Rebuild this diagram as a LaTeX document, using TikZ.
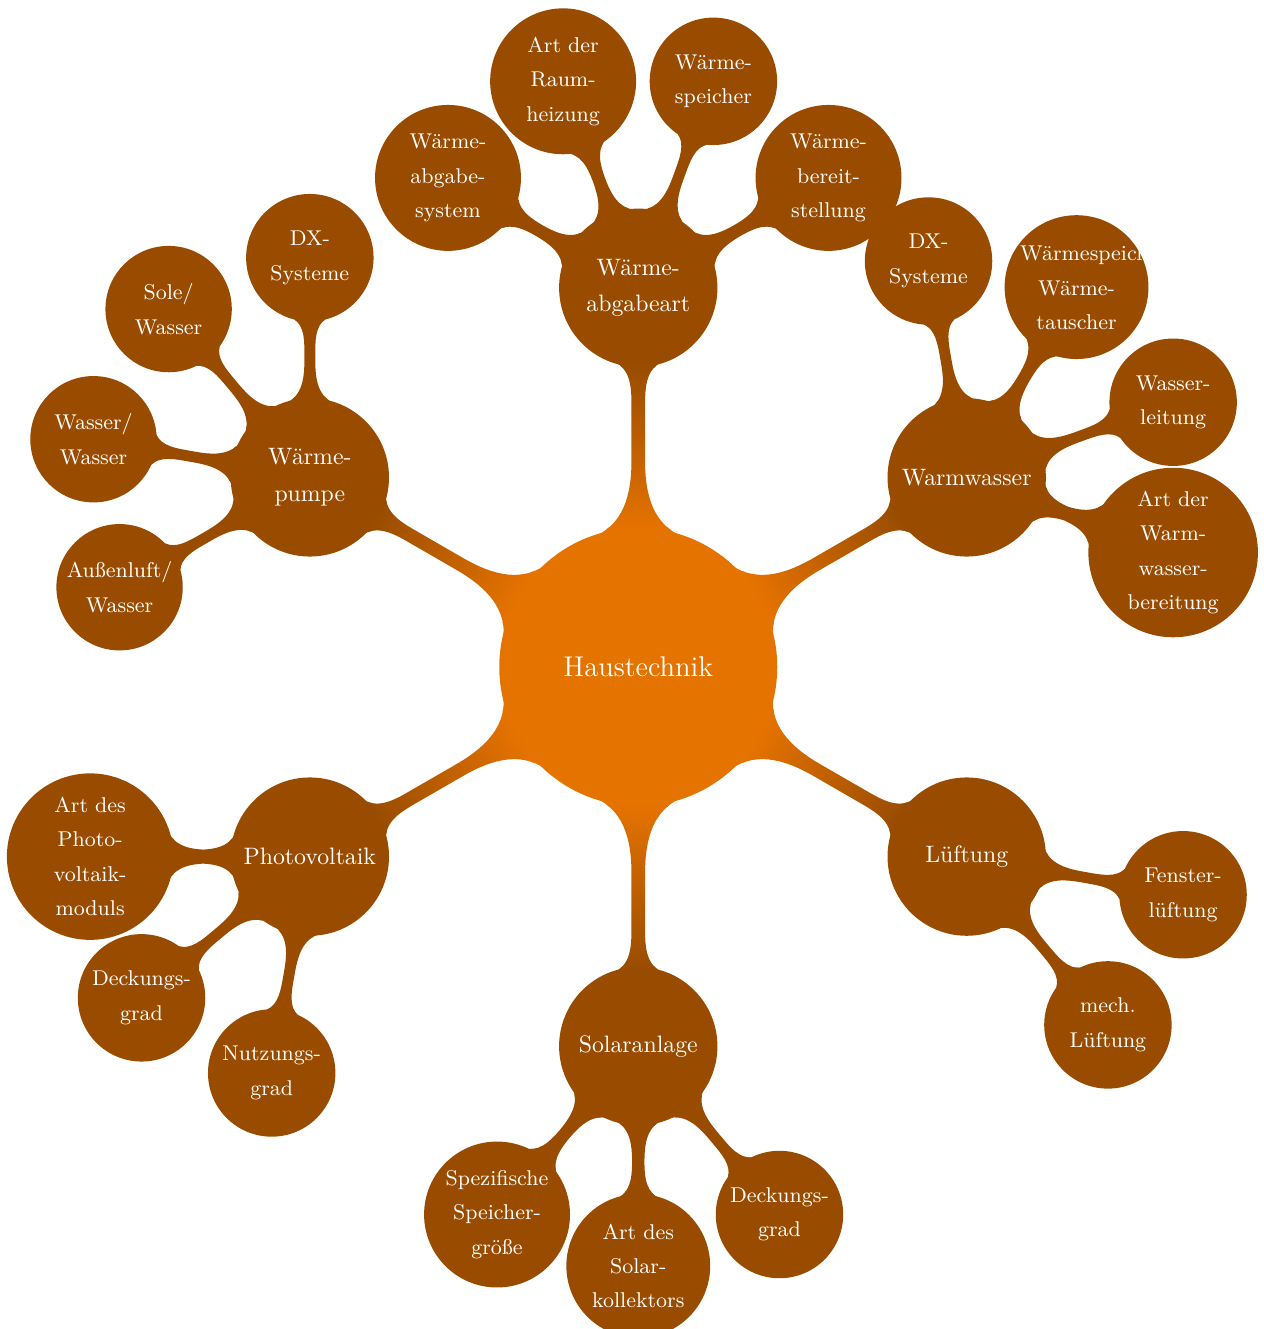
\documentclass[tikz,border=0pt]{standalone}
\usetikzlibrary{mindmap,calc}
\colorlet{wurzel}{orange!90!black}
\colorlet{ast}{orange!60!black}
\tikzset{
  wurzelknoten/.style={concept color=wurzel, concept, inner sep=0pt, minimum size=4.07cm, text width=3.5cm, align=center, font=\fontsize{12}{14}\selectfont},
  astknoten/.style={concept color=ast, concept, inner sep=0pt, minimum size=2.3cm, text width=2cm, align=center, font=\fontsize{10}{15.4}\selectfont},
  blattknoten/.style={concept color=ast, concept, inner sep=0pt, minimum size=1.7cm, text width=1.67cm, align=center, font=\fontsize{9}{14.5}\selectfont},
  wurzelbar/.style={circle connection bar switch color=from (wurzel) to (ast)},
  astbar/.style={circle connection bar switch color=from (ast) to (ast)}
}
\begin{document}
\begin{tikzpicture}[mindmap, text=white]
  \useasboundingbox (-9.442,-9.793) rectangle (9.256,9.867);
  \begin{scope}
    \node[wurzelknoten] (haus) at (0,0) {Haustechnik};
    \node[astknoten] (abgabe) at (90:5.61) {Wärme-\\abgabeart};
    \node[astknoten] (wwasser) at (30:5.61) {Warmwasser};
    \node[astknoten] (lueft) at (-30:5.61) {Lüftung};
    \node[astknoten] (solar) at (-90:5.61) {Solaranlage};
    \node[astknoten] (pv) at (210:5.61) {Photovoltaik};
    \node[astknoten] (wpumpe) at (150:5.61) {Wärme-\\pumpe};

    \node[blattknoten] (abgabe1) at ($(abgabe)+(150:3.25)$) {Wärme-\\abgabe-\\system};
    \node[blattknoten] (abgabe2) at ($(abgabe)+(110:3.25)$) {Art der\\Raum-\\heizung};
    \node[blattknoten] (abgabe3) at ($(abgabe)+(70:3.25)$) {Wärme-\\speicher};
    \node[blattknoten] (abgabe4) at ($(abgabe)+(30:3.25)$) {Wärme-\\bereit-\\stellung};

    \node[blattknoten] (wwasser1) at ($(wwasser)+(100:3.25)$) {DX-\\Systeme};
    \node[blattknoten] (wwasser2) at ($(wwasser)+(60:3.25)$) {Wärmespeicher/\\Wärme-\\tauscher};
    \node[blattknoten] (wwasser3) at ($(wwasser)+(20:3.25)$) {Wasser-\\leitung};
    \node[blattknoten] (wwasser4) at ($(wwasser)+(-20:3.25)$) {Art der\\Warm-\\wasser-\\bereitung};

    \node[blattknoten] (lueft1) at ($(lueft)+(-10:3.25)$) {Fenster-\\lüftung};
    \node[blattknoten] (lueft2) at ($(lueft)+(-50:3.25)$) {mech.\\Lüftung};

    \node[blattknoten] (solar1) at ($(solar)+(-130:3.25)$) {Spezifische\\Speicher-\\größe};
    \node[blattknoten] (solar2) at ($(solar)+(-90:3.25)$) {Art des\\Solar-\\kollektors};
    \node[blattknoten] (solar3) at ($(solar)+(-50:3.25)$) {Deckungs-\\grad};

    \node[blattknoten] (pv1) at ($(pv)+(180:3.25)$) {Art des\\Photo-\\voltaik-\\moduls};
    \node[blattknoten] (pv2) at ($(pv)+(220:3.25)$) {Deckungs-\\grad};
    \node[blattknoten] (pv3) at ($(pv)+(260:3.25)$) {Nutzungs-\\grad};

    \node[blattknoten] (wpumpe1) at ($(wpumpe)+(90:3.25)$) {DX-\\Systeme};
    \node[blattknoten] (wpumpe2) at ($(wpumpe)+(130:3.25)$) {Sole/\\Wasser};
    \node[blattknoten] (wpumpe3) at ($(wpumpe)+(170:3.25)$) {Wasser/\\Wasser};
    \node[blattknoten] (wpumpe4) at ($(wpumpe)+(210:3.25)$) {Außenluft/\\Wasser};
  \end{scope}
  \begin{scope}
    \foreach \ziel in {abgabe,wwasser,lueft,solar,pv,wpumpe}
      \path (haus) to[wurzelbar] (\ziel);
    \foreach \ziel in {1,2,3,4} {
      \path (abgabe) to[astbar] (abgabe\ziel);
      \path (wwasser) to[astbar] (wwasser\ziel);
      \path (wpumpe) to[astbar] (wpumpe\ziel);
    }
    \foreach \ziel in {1,2}
      \path (lueft) to[astbar] (lueft\ziel);
    \foreach \ziel in {1,2,3} {
      \path (solar) to[astbar] (solar\ziel);
      \path (pv) to[astbar] (pv\ziel);
    }
  \end{scope}
\end{tikzpicture}
\end{document}
